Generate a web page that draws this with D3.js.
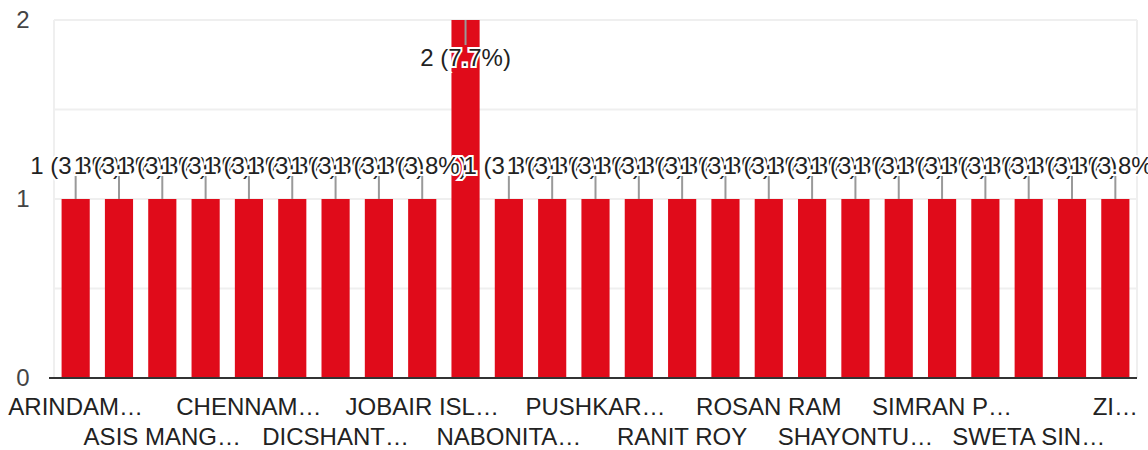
<!DOCTYPE html>
<html>
<head>
<meta charset="utf-8">
<script src="https://d3js.org/d3.v7.min.js"></script>
<style>
  body { margin: 0; background: #fff; }
  svg text { font-family: Arial, "Liberation Sans", sans-serif; }
</style>
</head>
<body>
<div id="chart"></div>
<script>
// names as shown (truncated) on the axis; every other one is hidden in the chart
var names = [
  "ARINDAM\u2026", "ARPAN\u2026", "ASIS MANG\u2026", "BISWAJIT\u2026", "CHENNAM\u2026",
  "DEBASISH\u2026", "DICSHANT\u2026", "GOURAB\u2026", "JOBAIR ISL\u2026", "KOUSHIK\u2026",
  "NABONITA\u2026", "PRIYANKA\u2026", "PUSHKAR\u2026", "RAHUL\u2026", "RANIT ROY",
  "RITIKA\u2026", "ROSAN RAM", "SAYAN\u2026", "SHAYONTU\u2026", "SHREYA\u2026",
  "SIMRAN P\u2026", "SOUMIK\u2026", "SWETA SIN\u2026", "TANMOY\u2026", "ZI\u2026"
];
var counts = [1,1,1,1,1, 1,1,1,1,2, 1,1,1,1,1, 1,1,1,1,1, 1,1,1,1,1];
var yTicks = [0, 1, 2];

var width = 1148, height = 450;
var plot = {left: 54, right: 1137, top: 20, bottom: 378};
var fontSize = 24;

var total = d3.sum(counts);
var data = names.map(function(n, i) { return {name: n, value: counts[i], i: i}; });

var svg = d3.select("#chart").append("svg")
  .attr("width", width)
  .attr("height", height);

var x = d3.scaleBand()
  .domain(names)
  .range([plot.left, plot.right])
  .paddingInner(0.35)
  .paddingOuter(0.175);

var y = d3.scaleLinear()
  .domain([0, 2])
  .range([plot.bottom, plot.top]);

// gridlines (major + half steps)
svg.append("g").selectAll("line")
  .data([0.5, 1, 1.5, 2])
  .enter().append("line")
    .attr("x1", plot.left).attr("x2", plot.right)
    .attr("y1", function(d) { return y(d); })
    .attr("y2", function(d) { return y(d); })
    .attr("stroke", "#efefef")
    .attr("stroke-width", 2);

// side borders
svg.append("g").selectAll("line")
  .data([plot.left, plot.right])
  .enter().append("line")
    .attr("x1", function(d) { return d; }).attr("x2", function(d) { return d; })
    .attr("y1", plot.top).attr("y2", plot.bottom)
    .attr("stroke", "#efefef")
    .attr("stroke-width", 2);

// y labels
svg.append("g").selectAll("text")
  .data(yTicks)
  .enter().append("text")
    .attr("x", 23)
    .attr("y", function(d) { return y(d); })
    .attr("dy", "0.35em")
    .attr("text-anchor", "middle")
    .attr("font-size", fontSize)
    .attr("fill", "#444")
    .text(function(d) { return d; });

// bars
svg.append("g").selectAll("rect")
  .data(data)
  .enter().append("rect")
    .attr("x", function(d) { return x(d.name); })
    .attr("y", function(d) { return y(d.value); })
    .attr("width", x.bandwidth())
    .attr("height", function(d) { return y(0) - y(d.value); })
    .attr("fill", "#e00b1a");

// baseline
svg.append("line")
  .attr("x1", plot.left - 5).attr("x2", plot.right)
  .attr("y1", y(0)).attr("y2", y(0))
  .attr("stroke", "#333")
  .attr("stroke-width", 2);

// x labels, every other one, staggered on two rows
svg.append("g").selectAll("text")
  .data(data.filter(function(d) { return d.i % 2 === 0; }))
  .enter().append("text")
    .attr("x", function(d) { return x(d.name) + x.bandwidth() / 2; })
    .attr("y", function(d) { return (d.i / 2) % 2 === 0 ? 415 : 445; })
    .attr("text-anchor", "middle")
    .attr("font-size", fontSize)
    .attr("fill", "#222")
    .text(function(d) { return d.name; });

// value labels with leader lines
var lab = svg.append("g").selectAll("g")
  .data(data)
  .enter().append("g");

function inside(d) { return y(d.value) - 45 < 0; }

lab.append("line")
  .attr("x1", function(d) { return x(d.name) + x.bandwidth() / 2; })
  .attr("x2", function(d) { return x(d.name) + x.bandwidth() / 2; })
  .attr("y1", function(d) { return y(d.value); })
  .attr("y2", function(d) { return inside(d) ? y(d.value) + 25 : y(d.value) - 23; })
  .attr("stroke", "#999")
  .attr("stroke-width", 2);

lab.append("text")
  .attr("x", function(d) { return x(d.name) + x.bandwidth() / 2; })
  .attr("y", function(d) { return inside(d) ? y(d.value) + 46 : y(d.value) - 25; })
  .attr("text-anchor", "middle")
  .attr("font-size", fontSize)
  .attr("fill", "#222")
  .attr("stroke", "#fff")
  .attr("stroke-width", 4)
  .attr("paint-order", "stroke")
  .text(function(d) { return d.value + " (" + (d.value / total * 100).toFixed(1) + "%)"; });
</script>
</body>
</html>
